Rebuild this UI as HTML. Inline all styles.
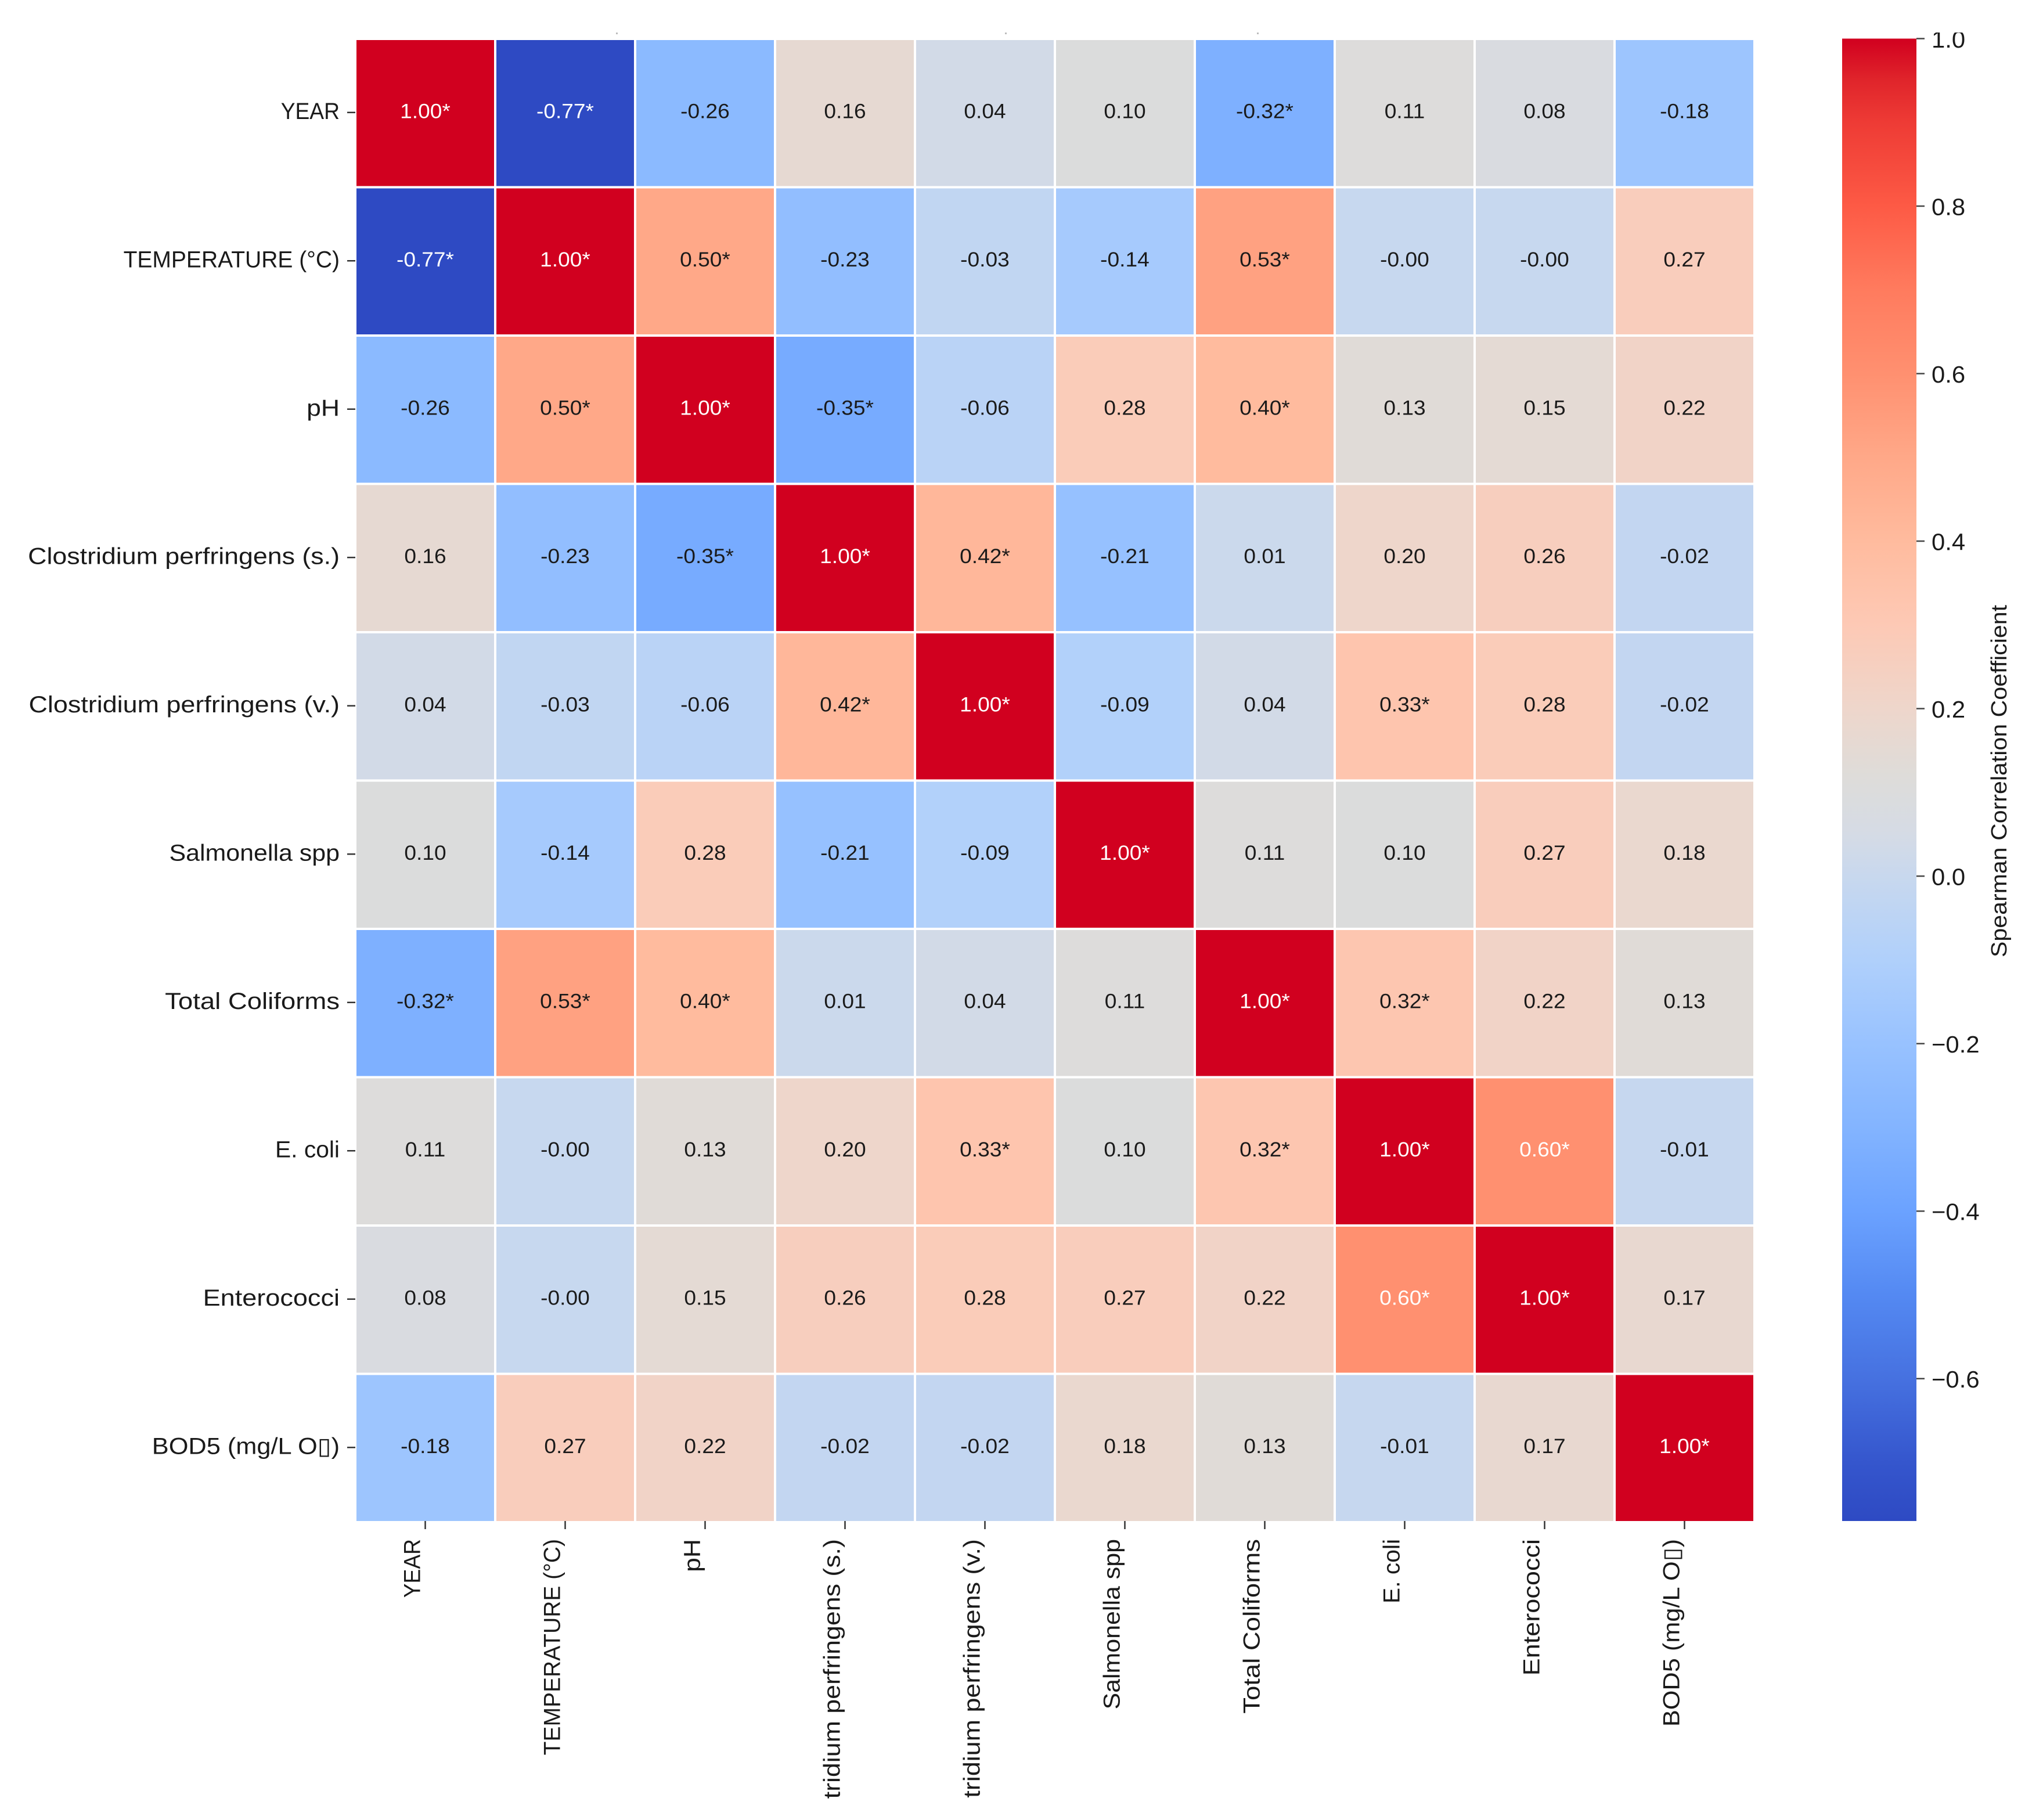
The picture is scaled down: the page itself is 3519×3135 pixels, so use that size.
<!DOCTYPE html>
<html lang="en">
<head>
<meta charset="utf-8">
<title>Spearman correlation heatmap</title>
<style>
html,body{margin:0;padding:0;background:#fff;width:3519px;height:3135px;overflow:hidden}
svg{display:block}
text{font-family:"Liberation Sans","DejaVu Sans",sans-serif}
</style>
</head>
<body>
<svg id="chart" xmlns="http://www.w3.org/2000/svg" width="3519" height="3135" viewBox="0 0 3519 3135">
  <defs>
    <linearGradient id="cbar-gradient" x1="0" y1="0" x2="0" y2="1"></linearGradient>
    <clipPath id="plot-clip"><rect x="612" y="67" width="2410" height="2555"></rect></clipPath>
    <clipPath id="page-crop"><rect x="0" y="56" width="3519" height="3042"></rect></clipPath>
  </defs>
  <rect x="0" y="0" width="3519" height="3135" fill="#ffffff"></rect>
  <g id="specks" fill="#bdbdbd">
    <rect x="1061" y="56" width="3" height="3"></rect>
    <rect x="1731" y="56" width="3" height="3"></rect>
    <rect x="2165" y="56" width="3" height="3"></rect>
  </g>
  <g id="cells" clip-path="url(#plot-clip)"></g>
  <g id="annotations"></g>
  <g id="y-axis"></g>
  <g id="x-axis" clip-path="url(#page-crop)"></g>
  <g id="colorbar" clip-path="url(#page-crop)"></g>
</svg>
<script>
const categories = ["YEAR", "TEMPERATURE (°C)", "pH", "Clostridium perfringens (s.)", "Clostridium perfringens (v.)", "Salmonella spp", "Total Coliforms", "E. coli", "Enterococci", "BOD5 (mg/L O\u25AF)"];
const rowYear = [1.00, -0.77, -0.26, 0.16, 0.04, 0.10, -0.32, 0.11, 0.08, -0.18];
const rowTemperature = [-0.77, 1.00, 0.50, -0.23, -0.03, -0.14, 0.53, -0.004, -0.004, 0.27];
const rowPh = [-0.26, 0.50, 1.00, -0.35, -0.06, 0.28, 0.40, 0.13, 0.15, 0.22];
const rowClostridiumS = [0.16, -0.23, -0.35, 1.00, 0.42, -0.21, 0.01, 0.20, 0.26, -0.02];
const rowClostridiumV = [0.04, -0.03, -0.06, 0.42, 1.00, -0.09, 0.04, 0.33, 0.28, -0.02];
const rowSalmonella = [0.10, -0.14, 0.28, -0.21, -0.09, 1.00, 0.11, 0.10, 0.27, 0.18];
const rowColiforms = [-0.32, 0.53, 0.40, 0.01, 0.04, 0.11, 1.00, 0.32, 0.22, 0.13];
const rowEcoli = [0.11, -0.004, 0.13, 0.20, 0.33, 0.10, 0.32, 1.00, 0.60, -0.01];
const rowEnterococci = [0.08, -0.004, 0.15, 0.26, 0.28, 0.27, 0.22, 0.60, 1.00, 0.17];
const rowBod = [-0.18, 0.27, 0.22, -0.02, -0.02, 0.18, 0.13, -0.01, 0.17, 1.00];
const matrix = [rowYear, rowTemperature, rowPh, rowClostridiumS, rowClostridiumV, rowSalmonella, rowColiforms, rowEcoli, rowEnterococci, rowBod];
const colorbarTicks = [1.0, 0.8, 0.6, 0.4, 0.2, 0.0, -0.2, -0.4, -0.6];
const colorbarTitle = "Spearman Correlation Coefficient";
const cmapValues = [1.0, 0.95, 0.9, 0.8, 0.7, 0.6, 0.5, 0.4, 0.3, 0.2, 0.12, 0.05, 0.0, -0.1, -0.2, -0.3, -0.4, -0.5, -0.6, -0.7, -0.77];
const cmapColors = ["#d1001f", "#e0252b", "#ee3b35", "#fd5a45", "#ff7b5e", "#ff9070", "#ffa888", "#ffbb9e", "#fdc9b5", "#eed6cb", "#dedcd9", "#d5dbe5", "#c8d8ee", "#b0d0fb", "#98c2ff", "#83b4ff", "#6ba2ff", "#5489f2", "#4671e0", "#3556cd", "#2e4ac3"];
const vMin = -0.77;
const vMax = 1.0;
const significance = 0.3;
const whiteTextAbove = 0.55;

const NS = "http://www.w3.org/2000/svg";
const plot = {left: 612, top: 67, right: 3022, bottom: 2622};
const cbar = {left: 3173, right: 3301, top: 66.5, bottom: 2620};
const axisLine = 2620;
const cols = categories.length;
const cellW = (plot.right - plot.left) / cols;
const cellH = (plot.bottom - plot.top) / cols;
const xScale = i => plot.left + i * cellW;
const yScale = i => plot.top + i * cellH;
const cbarScale = v => cbar.top + (vMax - v) * (cbar.bottom - cbar.top) / (vMax - vMin);

function hexToRgb(h) {
  return [parseInt(h.slice(1, 3), 16), parseInt(h.slice(3, 5), 16), parseInt(h.slice(5, 7), 16)];
}
function colorFor(v) {
  if (v >= cmapValues[0]) return cmapColors[0];
  for (let k = 1; k < cmapValues.length; k++) {
    if (v >= cmapValues[k]) {
      const t = (v - cmapValues[k]) / (cmapValues[k - 1] - cmapValues[k]);
      const a = hexToRgb(cmapColors[k]);
      const b = hexToRgb(cmapColors[k - 1]);
      return "rgb(" + a.map((c, n) => Math.round(c + (b[n] - c) * t)).join(",") + ")";
    }
  }
  return cmapColors[cmapColors.length - 1];
}
function make(tag, parent, attrs) {
  const el = document.createElementNS(NS, tag);
  Object.keys(attrs).forEach(k => el.setAttribute(k, attrs[k]));
  parent.appendChild(el);
  return el;
}
function fit(el, factor) {
  const natural = el.getComputedTextLength();
  el.setAttribute("textLength", (natural * factor).toFixed(1));
  el.setAttribute("lengthAdjust", "spacingAndGlyphs");
}
const labelTuning = {
  "pH": 1.09,
  "Clostridium perfringens (s.)": 1.013,
  "Clostridium perfringens (v.)": 1.017,
  "Salmonella spp": 0.978,
  "Total Coliforms": 1.047,
  "E. coli": 0.94,
  "Enterococci": 1.03,
  "BOD5 (mg/L O\u25AF)": 1.036
};
function labelFactor(label) {
  const caps = label.replace(/[^A-Z]/g, "").length / label.length;
  return (1.11 - 0.18 * caps) * (labelTuning[label] || 1);
}
function slug(s) {
  return s.toLowerCase().replace(/[^a-z0-9]+/g, "-").replace(/^-|-$/g, "");
}

const cellsG = document.getElementById("cells");
const annG = document.getElementById("annotations");
const yG = document.getElementById("y-axis");
const xG = document.getElementById("x-axis");
const cbG = document.getElementById("colorbar");

matrix.forEach((row, r) => {
  row.forEach((v, c) => {
    const cell = make("rect", cellsG, {x: xScale(c), y: yScale(r), width: cellW, height: cellH, fill: colorFor(v), stroke: "#ffffff", "stroke-width": 4});
    
    
    const star = Math.abs(v) >= significance ? "*" : "";
    const label = make("text", annG, {x: xScale(c) + cellW / 2, y: yScale(r) + cellH / 2 + 8.5, "text-anchor": "middle", "font-size": 35, fill: Math.abs(v) >= whiteTextAbove ? "#ffffff" : "#1a1a1a"});
    label.textContent = v.toFixed(2) + star;
    
    
    fit(label, 1.06);
  });
});

categories.forEach((name, i) => {
  const cy = yScale(i) + cellH / 2;
  const yTick = make("line", yG, {x1: 598, x2: 612, y1: cy - 1, y2: cy - 1, stroke: "#333333", "stroke-width": 2.5});
  
  
  const yLabel = make("text", yG, {x: 585, y: cy + 10, "text-anchor": "end", "font-size": 40, fill: "#1a1a1a"});
  yLabel.textContent = name;
  
  
  fit(yLabel, labelFactor(name));

  const cx = xScale(i) + cellW / 2;
  const xTick = make("line", xG, {x1: cx, x2: cx, y1: axisLine, y2: axisLine + 14, stroke: "#333333", "stroke-width": 2.5});
  
  
  const xLabel = make("text", xG, {transform: "translate(" + (cx - 9) + " 2651) rotate(-90)", x: 0, y: 0, "text-anchor": "end", "font-size": 40, fill: "#1a1a1a"});
  xLabel.textContent = name;
  
  
  fit(xLabel, labelFactor(name));
});

const gradient = document.getElementById("cbar-gradient");
cmapValues.forEach((v, k) => {
  const offset = (cbarScale(v) - cbar.top) / (cbar.bottom - cbar.top);
  make("stop", gradient, {offset: offset, "stop-color": cmapColors[k]});
});
const bar = make("rect", cbG, {x: cbar.left, y: cbar.top, width: cbar.right - cbar.left, height: cbar.bottom - cbar.top, fill: "url(#cbar-gradient)"});


colorbarTicks.forEach(v => {
  const ty = cbarScale(v);
  const tick = make("line", cbG, {x1: cbar.right, x2: cbar.right + 14, y1: ty, y2: ty, stroke: "#444444", "stroke-width": 2.5});
  
  
  const tl = make("text", cbG, {x: 3327, y: ty + 15.5, "font-size": 41, fill: "#1a1a1a"});
  tl.textContent = v.toFixed(1).replace("-", "\u2212");
  
  
  fit(tl, 1.02);
});
const cbTitle = make("text", cbG, {transform: "translate(3456 1649) rotate(-90)", x: 0, y: 0, "font-size": 38, fill: "#1a1a1a"});
cbTitle.textContent = colorbarTitle;


cbTitle.setAttribute('textLength', '607');
cbTitle.setAttribute('lengthAdjust', 'spacingAndGlyphs');
</script>
</body>
</html>
